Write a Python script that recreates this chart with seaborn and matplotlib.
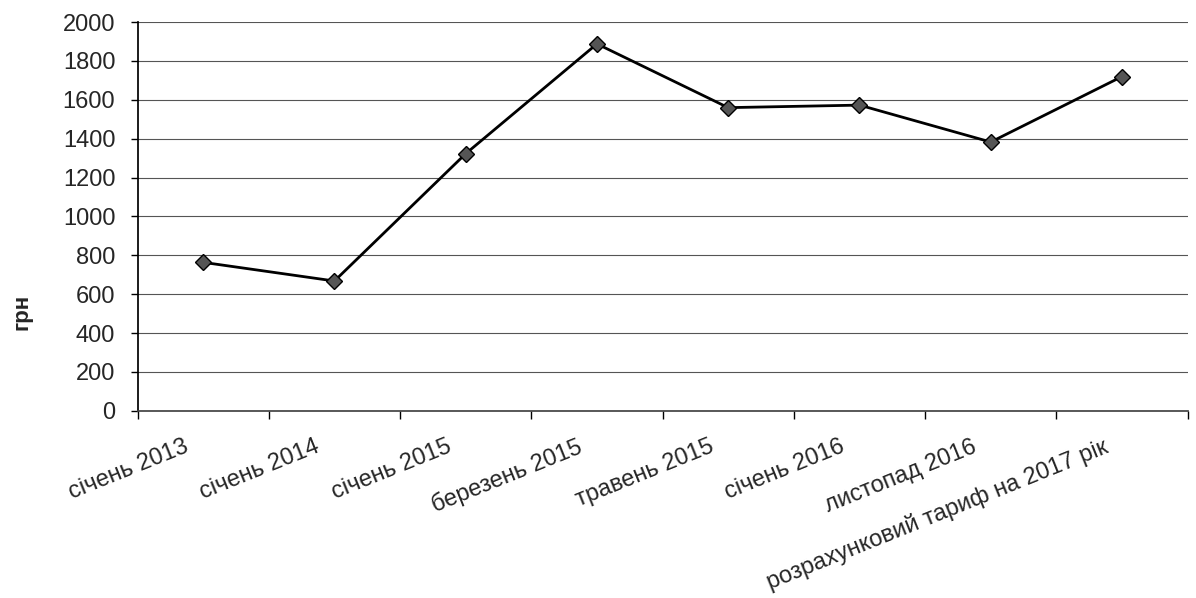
import matplotlib
matplotlib.use('Agg')
import matplotlib.pyplot as plt
import numpy as np
import seaborn as sns

months = ['січень 2013', 'січень 2014', 'січень 2015', 'березень 2015',
          'травень 2015', 'січень 2016', 'листопад 2016',
          'розрахунковий тариф на 2017 рік']
tariff = [764, 668, 1323, 1888, 1560, 1573, 1383, 1720]
y_ticks = [0, 200, 400, 600, 800, 1000, 1200, 1400, 1600, 1800, 2000]

font_size = 17

sns.set_theme(style='white')
plt.rcParams['font.family'] = ['Liberation Sans', 'DejaVu Sans']

fig, ax = plt.subplots(figsize=(11.96, 5.98), dpi=100)

sns.lineplot(x=months, y=tariff, ax=ax, color='black', linewidth=2,
             marker='D', markersize=8, markerfacecolor='#555555',
             markeredgecolor='black', markeredgewidth=1, sort=False)

ax.set_ylim(0, 2000)
ax.set_xlim(-0.5, len(months) - 0.5)
ax.set_yticks(y_ticks)
ax.set_yticklabels([str(v) for v in y_ticks], fontsize=font_size)
ax.yaxis.grid(True, color='#555555', linewidth=0.8)
ax.set_axisbelow(True)

# invisible major ticks, nudged left so the rotated labels end just before the centre
ax.set_xticks(np.arange(len(months)) - 0.15)
ax.set_xticklabels(months, fontsize=font_size, rotation=22,
                   ha='right', va='top', rotation_mode='anchor')
ax.set_xticks(np.arange(len(months) + 1) - 0.5, minor=True)
ax.tick_params(axis='x', which='major', length=0, pad=18)
ax.tick_params(axis='x', which='minor', length=6, width=1, color='black',
               direction='out', bottom=True)
ax.tick_params(axis='y', length=5, width=1, color='black', direction='out',
               left=True, pad=11)

for side in ['top', 'right']:
    ax.spines[side].set_visible(False)
ax.spines['left'].set_color('black')
ax.spines['bottom'].set_color('#444444')

ax.set_xlabel('')
ax.set_ylabel('грн', fontsize=16, fontweight='bold')
ax.yaxis.set_label_coords(-0.100, 0.255)

plt.subplots_adjust(left=0.115, right=0.993, top=0.963, bottom=0.313)
plt.savefig('out.png', dpi=100)
